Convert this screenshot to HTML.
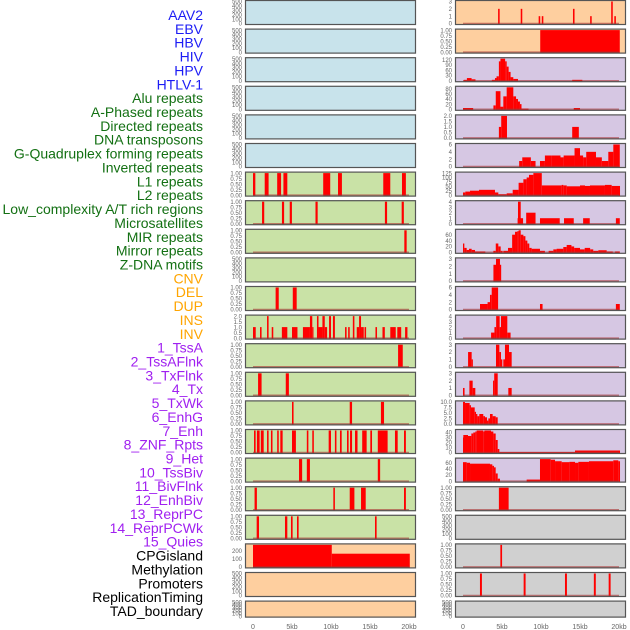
<!DOCTYPE html>
<html><head><meta charset="utf-8"><style>
html,body{margin:0;padding:0;background:#fff;}
svg{display:block;font-family:"Liberation Sans",sans-serif;}
</style></head><body>
<svg id="chart" width="630" height="630" viewBox="0 0 630 630" xmlns="http://www.w3.org/2000/svg">
<g id="labels"></g>
<g id="panels"></g>
<g id="xaxes"></g>
</svg>
<script>
const labelNames = ["AAV2","EBV","HBV","HIV","HPV","HTLV-1","Alu repeats","A-Phased repeats","Directed repeats","DNA transposons","G-Quadruplex forming repeats","Inverted repeats","L1 repeats","L2 repeats","Low_complexity A/T rich regions","Microsatellites","MIR repeats","Mirror repeats","Z-DNA motifs","CNV","DEL","DUP","INS","INV","1_TssA","2_TssAFlnk","3_TxFlnk","4_Tx","5_TxWk","6_EnhG","7_Enh","8_ZNF_Rpts","9_Het","10_TssBiv","11_BivFlnk","12_EnhBiv","13_ReprPC","14_ReprPCWk","15_Quies","CPGisland","Methylation","Promoters","ReplicationTiming","TAD_boundary"];
const labelGroups = [6,13,5,15,5];
const groupColors = ["#1c1cf5","#137013","#ffa500","#a020f0","#000000"];
const xTicks = [0,5,10,15,20];
const xTickLabels = ["0","5kb","10kb","15kb","20kb"];

const T01 = [0,0.25,0.5,0.75,1];
const T500 = [0,100,200,300,400,500];
const spk = (arr,w,v)=>arr.map(p=>[p-w/2,p+w/2,v===undefined?1:v]);

// left column
const L1segs = [[0,0.3,1],[1.5,2.0,1],[3.1,3.6,1],[3.9,4.4,1],[9.0,9.9,1],[10.9,11.4,1],[16.7,17.6,1],[19.1,19.6,1]];
const L2pos = [1.3,3.85,4.85,8.15,17.05,19.2];
const LowCpos = [19.55];
const MIRsegs = [[2.9,3.3,1],[5.1,5.6,1]];
const MirrorSegs = [[0,0.35,1],[0.9,1.1,1],[1.8,2.0,2],[2.4,2.6,1],[3.7,4.4,1],[5.0,5.7,1],[6.4,7.3,1],[7.3,7.6,2],[7.6,7.7,1],[8.2,8.4,2],[8.4,8.9,1],[8.9,9.2,2],[9.2,9.5,1],[9.75,10.0,2],[10.25,10.5,2],[11.8,12.0,1],[12.2,12.4,1],[12.8,13.0,2],[13.3,13.6,1],[13.6,13.85,2],[13.85,14.2,1],[14.3,14.5,1],[15.7,15.9,1],[16.6,16.9,1],[17.6,18.3,1],[18.5,19.0,1],[19.5,19.8,1]];
const ZDNAsegs = [[18.6,19.2,1]];
const CNVsegs = [[0.65,1.1,1],[4.2,4.6,1]];
const DELsegs = [[5.0,5.2,1],[12.4,12.7,1],[16.4,16.8,1]];
const DUPsegs = [[0.13,0.34,1],[0.5,0.85,1],[1.0,1.37,1],[1.8,2.0,1],[2.3,2.5,1],[3.1,3.3,1],[3.5,3.8,1],[5.0,5.5,1],[6.9,7.1,1],[7.6,7.8,1],[9.7,10.0,1],[10.5,10.7,1],[11.15,11.37,1],[12.05,12.26,1],[12.44,12.7,1],[13.08,13.4,1],[14.0,14.57,1],[15.04,15.26,1],[16.0,17.26,1],[18.2,18.55,1],[19.36,19.6,1]];
const INSsegs = [[5.9,6.3,1],[6.9,7.3,1],[16.0,16.3,1]];
const INVsegs = [[0.2,0.5,1],[10.3,10.5,1],[12.4,13.0,1],[13.85,14.45,1],[19.36,19.6,1]];
const TssAsegs = [[0.47,0.77,1],[4.1,4.4,1],[4.87,5.08,1],[5.64,5.85,1],[15.64,15.85,1]];
const CpGsegs = [[0,10.1,275],[10.1,20.1,165]];

// right column
const AAV2pos = [4.6,7.5,9.8,10.2,14.2,16.4,19.1,19.5];
const AAV2vals = [2,2,1,1,2,1,3,1];
const EBVsegs = [[9.9,20.1,1]];
const HBVsegs = [[0.1,0.5,5],[0.5,1.1,15],[1.1,1.6,8],[3.7,4.1,5],[4.1,4.3,15],[4.3,4.6,25],[4.6,4.8,110],[4.8,5.4,125],[5.4,5.6,110],[5.6,5.85,80],[5.85,6.1,50],[6.1,6.45,20],[6.45,7.05,10],[14.0,15.3,5]];
const HIVsegs = [[0,1.3,5],[3.9,4.2,15],[4.2,4.8,70],[4.8,5.17,10],[5.17,5.6,50],[5.6,6.45,85],[6.45,6.8,50],[6.8,7.05,40],[7.05,7.3,30],[7.3,7.5,20],[7.5,8.4,3],[14.2,15.0,5]];
const HPVsegs = [[4.6,4.9,1],[4.9,5.64,2],[14.0,14.85,1]];
const HTLVsegs = [[7.2,7.6,1.5],[7.6,8.7,2.5],[8.7,9.3,1.5],[9.87,10.5,1.5],[10.5,11.3,3],[11.3,12.5,3],[12.5,12.9,2.5],[12.9,14.3,3],[14.3,15.0,5],[15.0,15.4,3],[15.4,15.8,2.5],[15.8,17.05,4],[17.05,17.8,2.5],[17.8,18.63,1.5],[18.63,19.27,4],[19.27,20.1,6]];
const AluSegs = [[0,0.3,15],[0.3,0.9,20],[0.9,2.05,25],[2.05,4.1,30],[4.1,4.53,15],[4.53,5.6,5],[5.6,6.37,10],[6.37,7.13,30],[7.13,7.74,70],[7.74,8.16,90],[8.16,8.46,100],[8.46,9.02,115],[9.02,10.1,125],[10.1,12.65,55],[12.65,12.86,58],[12.86,13.3,55],[13.3,15.0,50],[15.0,15.64,55],[15.64,16.28,52],[16.28,18.2,55],[18.2,19.06,58],[19.06,20.13,52]];
const DirSegs = [[7.0,7.7,1],[7.05,7.4,4],[8.1,9.3,2],[9.87,12.4,1],[12.95,14.2,1],[15.4,16.25,1],[19.6,20.1,1]];
const DNAsegs = [[0,0.17,30],[0.17,0.47,15],[0.47,0.77,8],[0.77,1.11,12],[1.11,1.54,8],[1.54,2.86,3],[3.89,4.2,5],[4.2,4.53,30],[4.53,4.83,20],[4.83,5.08,5],[5.17,5.77,5],[5.77,6.3,15],[6.3,6.67,60],[6.67,6.97,70],[6.97,7.13,72],[7.13,7.4,75],[7.4,7.74,60],[7.74,8.0,55],[8.0,8.25,40],[8.25,8.5,30],[8.5,8.8,15],[8.8,9.87,12],[9.87,10.5,5],[10.98,11.58,5],[11.58,12.0,10],[12.0,12.86,12],[12.86,13.29,18],[13.29,13.9,25],[13.9,14.25,20],[14.25,15.0,15],[15.0,15.6,10],[15.6,16.3,15],[16.3,16.7,10],[16.7,17.35,5],[17.35,18.42,7],[18.42,19.2,3],[19.5,20.1,3]];
const G4segs = [[3.9,4.23,2.2],[4.23,4.74,3],[4.74,4.87,2.2]];
const InvRSegs = [[2.18,3.15,1.5],[3.15,3.46,2],[3.46,3.68,4],[3.68,4.5,6],[9.87,10.2,1.5],[19.6,20.1,1.5]];
const L1Rsegs = [[3.6,4.03,1],[4.03,4.25,2],[4.25,4.7,4],[4.7,4.87,2],[4.87,5.68,4],[5.68,6.1,1]];
const L2Rsegs = [[0.65,1.11,2],[1.11,1.24,1],[4.23,4.66,3],[4.66,4.87,2],[4.87,5.04,1],[5.17,5.38,1],[5.38,5.9,3],[5.9,6.24,2]];
const LowRsegs = [[0,0.2,1],[0.82,1.24,2],[1.24,1.58,1],[3.85,4.0,2],[4.0,4.45,3],[5.81,6.24,1]];
const MicroSegs = [[0,0.26,10],[0.26,0.85,9.5],[0.85,1.02,8.5],[1.02,1.5,7.5],[1.5,1.67,5.5],[1.67,1.84,4.5],[1.84,2.09,3.5],[2.09,2.6,4.5],[2.6,2.82,3.5],[2.82,3.08,3],[3.08,3.25,1.5],[3.25,3.46,2.5],[3.46,3.8,4.5],[3.8,4.19,3.5],[4.19,4.45,3]];
const MIRRsegs = [[0,0.04,30],[0.04,0.64,35],[0.64,1.07,33],[1.07,1.32,38],[1.32,1.58,40],[1.58,1.75,42],[1.75,2.6,44],[2.6,2.74,42],[2.74,3.59,44],[3.59,3.89,42],[3.89,4.19,38],[4.19,4.45,25],[4.45,4.66,7],[4.66,14.36,0.7],[14.36,20.13,4]];
const MirrRSegs = [[0,0.47,62],[0.47,0.9,60],[0.9,3.46,57],[3.46,3.76,55],[3.76,3.97,50],[3.97,4.19,45],[4.19,4.45,25],[4.45,4.74,8],[8.16,9.87,5],[9.87,11.24,72],[11.24,11.8,70],[11.8,12.65,65],[12.65,13.63,62],[13.63,14.36,63],[14.36,14.79,60],[14.79,16.15,63],[16.15,19.27,65],[19.27,19.91,68],[19.91,20.13,65]];
const ZRsegs = [[4.6,5.85,1]];
const DELRpos = [4.9];
const DUPRpos = [2.3,7.9,13.2,16.9,18.8];

const BL="#c8e3eb",GR="#c9e2a6",PE="#fecf9f",LA="#d6c7e3",GY="#d0d0d0";
const leftBg = [BL,BL,BL,BL,BL,BL,GR,GR,GR,GR,GR,GR,GR,GR,GR,GR,GR,GR,GR,PE,PE,PE];
const rightBg = [PE,PE,LA,LA,LA,LA,LA,LA,LA,LA,LA,LA,LA,LA,LA,LA,LA,GY,GY,GY,GY,GY];
const leftData = [null,null,null,null,null,null,
 {s:L1segs,m:1,t:T01,f:2},{s:spk(L2pos,0.28),m:1,t:T01,f:2},{s:spk(LowCpos,0.3),m:1,t:T01,f:2},null,
 {s:MIRsegs,m:1,t:T01,f:2},{s:MirrorSegs,m:2,t:[0,0.5,1,1.5,2],f:1},{s:ZDNAsegs,m:1,t:T01,f:2},
 {s:CNVsegs,m:1,t:T01,f:2},{s:DELsegs,m:1,t:T01,f:2},{s:DUPsegs,m:1,t:T01,f:2},{s:INSsegs,m:1,t:T01,f:2},
 {s:INVsegs,m:1,t:T01,f:2},{s:TssAsegs,m:1,t:T01,f:2},{s:CpGsegs,m:275,t:[0,100,200],f:0},null,null];
const rightData = [
 {s:AAV2pos.map((p,i)=>[p-0.1,p+0.1,AAV2vals[i]]),m:3,t:[0,1,2,3],f:0},
 {s:EBVsegs,m:1,t:T01,f:2},
 {s:HBVsegs,m:125,t:[0,30,60,90,120],f:0},
 {s:HIVsegs,m:85,t:[0,20,40,60,80],f:0},
 {s:HPVsegs,m:2,t:[0,0.5,1,1.5,2],f:1},
 {s:HTLVsegs,m:6,t:[0,2,4,6],f:0},
 {s:AluSegs,m:125,t:[0,25,50,75,100,125],f:0},
 {s:DirSegs,m:4,t:[0,1,2,3,4],f:0},
 {s:DNAsegs,m:75,t:[0,20,40,60],f:0},
 {s:G4segs,m:3,t:[0,1,2,3],f:0},
 {s:InvRSegs,m:6,t:[0,2,4,6],f:0},
 {s:L1Rsegs,m:4,t:[0,1,2,3,4],f:0},
 {s:L2Rsegs,m:3,t:[0,1,2,3],f:0},
 {s:LowRsegs,m:3,t:[0,1,2,3],f:0},
 {s:MicroSegs,m:10,t:[0,2.5,5,7.5,10],f:1},
 {s:MIRRsegs,m:44,t:[0,10,20,30,40],f:0},
 {s:MirrRSegs,m:72,t:[0,20,40,60],f:0},
 {s:ZRsegs,m:1,t:T01,f:2},
 null,
 {s:spk(DELRpos,0.22),m:1,t:T01,f:2},
 {s:spk(DUPRpos,0.25),m:1,t:T01,f:2},
 null];

const NS="http://www.w3.org/2000/svg";
function mk(tag,attrs,parent){const e=document.createElementNS(NS,tag);for(const k in attrs)e.setAttribute(k,attrs[k]);parent.appendChild(e);return e;}

// labels
const lg=document.getElementById('labels');
let gi=0,cnt=0;
labelNames.forEach((n,i)=>{
  while(cnt>=labelGroups[gi]){cnt=0;gi++;}
  cnt++;
  const t=mk('text',{x:203,y:15+i*13.86+5,'text-anchor':'end','font-size':14,fill:groupColors[gi]},lg);
  t.textContent=n;
  
  
});

const pg=document.getElementById('panels');
const PW=171, pxPerKb=7.8;
function drawPanel(col,row,bg,d){
  const left=col===0?245:455, top=row*28.6, h=row===21?17:25;
  const g=mk('g',{},pg);
  
  
  mk('rect',{x:left,y:top,width:PW,height:h,fill:bg},g);
  const xs=kb=>left+8+kb*pxPerKb;
  const ticks=d?d.t:T500, m=d?d.m:500, f=d?d.f:0;
  const ys=v=>top+h-1.5-(v/m)*(h-3);
  ticks.forEach(v=>{
    const t=mk('text',{x:left-3,y:ys(v)+2.2,'text-anchor':'end','font-size':6,fill:'#666'},g);
    t.textContent=v.toFixed(f);
    
    
  });
  if(d){
    d.s.forEach(s=>{
      const y0=ys(0), y1=Math.max(top,ys(s[2]));
      const r=mk('rect',{x:xs(s[0]),y:y1,width:Math.max(1.2,xs(s[1])-xs(s[0])),height:y0-y1+1,fill:'#ff0000'},g);
      
      
    });
    mk('line',{x1:xs(0),x2:xs(20),y1:ys(0),y2:ys(0),stroke:'#a33',opacity:0.6,'stroke-width':1.5},g);
  }
  mk('rect',{x:left+0.5,y:top+0.5,width:PW-1,height:h-1,fill:'none',stroke:'#555','stroke-width':1.2},g);
}
for(let r=0;r<22;r++){drawPanel(0,r,leftBg[r],leftData[r]);drawPanel(1,r,rightBg[r],rightData[r]);}

const xg=document.getElementById('xaxes');
[245,455].forEach(left=>{
  xTicks.forEach((v,i)=>{
    const t=mk('text',{x:left+8+v*pxPerKb,y:629,'text-anchor':'middle','font-size':7,fill:'#666'},xg);
    t.textContent=xTickLabels[i];
    
    
  });
});
</script>
</body></html>
